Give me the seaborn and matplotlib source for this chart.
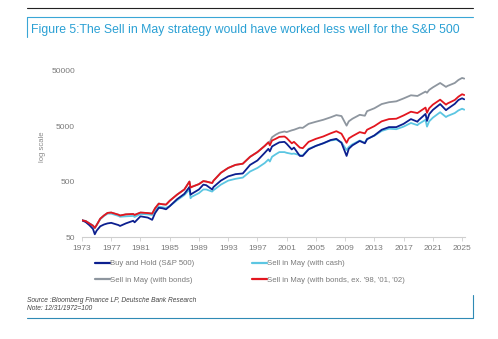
import matplotlib
matplotlib.use("Agg")
import matplotlib.pyplot as plt
from matplotlib.lines import Line2D
import numpy as np
import pandas as pd
import seaborn as sns

# ---- data ----
dates = [1973.0, 1973.5, 1974.0, 1974.5, 1974.75, 1975.0, 1975.5, 1976.0, 1976.5, 1977.0,
         1978.0, 1978.2, 1979.0, 1980.0, 1980.2, 1981.0, 1982.0, 1982.6, 1983.0, 1983.5,
         1984.0, 1984.5, 1985.0, 1986.0, 1987.0, 1987.7, 1987.85, 1988.0, 1989.0, 1989.6,
         1990.0, 1990.8, 1991.0, 1992.0, 1993.0, 1994.0, 1995.0, 1996.0, 1997.0, 1998.0,
         1998.5, 1998.7, 1999.0, 1999.5, 2000.0, 2000.7, 2001.0, 2001.7, 2002.0, 2002.8,
         2003.2, 2004.0, 2005.0, 2006.0, 2007.0, 2007.8, 2008.5, 2009.2, 2009.5, 2010.0,
         2011.0, 2011.7, 2012.0, 2013.0, 2014.0, 2015.0, 2016.0, 2017.0, 2018.0, 2018.9,
         2019.0, 2020.0, 2020.2, 2020.5, 2021.0, 2022.0, 2022.8, 2023.0, 2024.0, 2024.5,
         2025.0, 2025.3]

buy_hold = [100, 93, 82, 70, 56, 65, 78, 84, 88, 90,
            82, 79, 88, 98, 92, 118, 112, 102, 135, 168,
            165, 158, 180, 240, 300, 400, 290, 300, 360, 440,
            430, 360, 400, 520, 620, 680, 700, 1000, 1200, 1650,
            1950, 1750, 2150, 2350, 2550, 2600, 2400, 1900, 2050, 1450,
            1450, 1900, 2200, 2450, 2800, 2950, 2500, 1450, 1950, 2250,
            2700, 2450, 2900, 3400, 4300, 4800, 4800, 5500, 6700, 6000,
            6300, 8300, 6200, 8200, 9800, 12500, 9700, 10200, 12600, 14800,
            15900, 15200]

sim_cash = [100, 97, 88, 80, 72, 82, 105, 120, 132, 132,
            120, 116, 118, 120, 115, 130, 128, 125, 150, 178,
            172, 168, 180, 230, 285, 360, 250, 265, 310, 360,
            360, 330, 350, 440, 520, 560, 590, 760, 880, 1080,
            1250, 1150, 1400, 1550, 1700, 1700, 1650, 1580, 1600, 1500,
            1480, 1950, 2200, 2450, 2750, 2850, 2550, 1850, 2100, 2350,
            2750, 2500, 2950, 3350, 4100, 4500, 4400, 4900, 5700, 5200,
            5400, 6500, 4900, 6100, 7100, 8900, 7300, 7600, 8600, 9600,
            10300, 9900]

sim_bonds = [100, 97, 88, 80, 73, 82, 107, 122, 136, 138,
             126, 122, 128, 130, 125, 138, 135, 132, 165, 200,
             195, 192, 225, 290, 360, 500, 390, 400, 450, 510,
             500, 470, 520, 720, 880, 1000, 1050, 1400, 1700, 2200,
             2550, 2600, 3150, 3500, 3800, 4000, 3900, 4200, 4300, 4700,
             4650, 5500, 6000, 6500, 7200, 7900, 7600, 5100, 6100, 6800,
             8000, 7700, 9300, 10500, 12500, 13500, 14000, 15800, 18000, 17500,
             17800, 21000, 20000, 22500, 25000, 30000, 25500, 26500, 30000, 34000,
             37000, 36000]

sim_bonds_ex = [100, 97, 88, 80, 73, 82, 107, 122, 136, 138,
                126, 122, 128, 130, 125, 138, 135, 132, 165, 200,
                195, 192, 225, 290, 360, 500, 390, 400, 450, 510,
                500, 470, 520, 720, 880, 1000, 1050, 1400, 1700, 2200,
                2550, 2250, 2750, 2950, 3200, 3250, 3050, 2450, 2600, 2050,
                2000, 2600, 2950, 3250, 3700, 4050, 3650, 2500, 3000, 3300,
                3900, 3700, 4300, 5000, 6100, 6700, 6800, 7800, 9100, 8600,
                8800, 10800, 8700, 10500, 12200, 15000, 12200, 12800, 14800, 17000,
                18800, 18200]

labels = ["Buy and Hold (S&P 500)", "Sell in May (with cash)",
          "Sell in May (with bonds)", "Sell in May (with bonds, ex. '98, '01, '02)"]
colors = ["#0c1f8f", "#5cc6e2", "#8e969f", "#e3161f"]
xticks = list(range(1973, 2026, 4))
yticks = [50, 500, 5000, 50000]

title = "Figure 5:The Sell in May strategy would have worked less well for the S&P 500"
source = "Source :Bloomberg Finance LP, Deutsche Bank Research"
note = "Note: 12/31/1972=100"

# ---- frame ----
df = pd.concat([
    pd.DataFrame({"date": dates, "value": vals, "series": lab})
    for vals, lab in zip([buy_hold, sim_cash, sim_bonds, sim_bonds_ex], labels)
])

sns.set_style("white")
plt.rcParams["font.family"] = ["Liberation Sans", "DejaVu Sans"]

W, H = 498, 339
fig = plt.figure(figsize=(W / 100, H / 100), dpi=100)
ax = fig.add_axes([82 / W, 1 - 237 / H, (465 - 82) / W, (237 - 54) / H])

draw_order = [labels[2], labels[1], labels[0], labels[3]]
palette = dict(zip(labels, colors))
for lab in draw_order:
    sns.lineplot(data=df[df.series == lab], x="date", y="value", color=palette[lab],
                 lw=1.3, ax=ax, legend=False)

ax.set_yscale("log")
ax.set_ylim(50, 100000)
ax.set_xlim(1973, 2025.4)
ax.set_xticks(xticks)
ax.set_xticklabels([str(t) for t in xticks])
ax.set_yticks(yticks)
ax.set_yticklabels([str(t) for t in yticks])
ax.yaxis.set_minor_locator(matplotlib.ticker.NullLocator())
ax.set_xlabel("")
ax.set_ylabel("")
for s in ["top", "right", "left"]:
    ax.spines[s].set_visible(False)
ax.spines["bottom"].set_color("#cfcfcf")
ax.spines["bottom"].set_linewidth(0.8)
ax.tick_params(axis="x", length=3, width=0.6, color="#cfcfcf", labelsize=6,
               labelcolor="#7a7a7a", pad=3, direction="out", bottom=True)
ax.tick_params(axis="y", length=0, labelsize=6, labelcolor="#7a7a7a", pad=5)

fig.text(42 / W, 1 - 147 / H, "log scale", rotation=90, fontsize=5.5, color="#8a8a8a",
         ha="center", va="center")

# legend (column-wise order)
order = [0, 2, 1, 3]
handles = [Line2D([0], [0], color=colors[i], lw=1.6) for i in order]
fig.legend(handles, [labels[i] for i in order], ncol=2, frameon=False,
           loc="upper left", bbox_to_anchor=(95 / W, 1 - 260 / H),
           fontsize=5.6, labelcolor="#7a7a7a", handlelength=1.95, handletextpad=0.0,
           columnspacing=7.4, labelspacing=1.15, borderaxespad=0, borderpad=0)

# title and frame lines
fig.text(31 / W, 1 - 30 / H, title, fontsize=8.8, color="#2aa0d4", va="center", ha="left")
fig.add_artist(Line2D([27 / W, 473 / W], [1 - 8 / H, 1 - 8 / H], color="#222222", lw=0.8))
fig.add_artist(Line2D([27 / W, 473 / W], [1 - 17 / H, 1 - 17 / H], color="#3aa6d6", lw=0.8))
fig.add_artist(Line2D([27 / W, 27 / W], [1 - 17 / H, 1 - 37 / H], color="#3aa6d6", lw=0.8))
fig.add_artist(Line2D([27 / W, 473 / W], [1 - 318 / H, 1 - 318 / H], color="#2f8ab5", lw=0.8))
fig.add_artist(Line2D([473 / W, 473 / W], [1 - 295 / H, 1 - 318 / H], color="#2f8ab5", lw=0.8))

fig.text(27 / W, 1 - 300 / H, source, fontsize=4.8, style="italic", color="#444444",
         va="center", ha="left")
fig.text(27 / W, 1 - 308 / H, note, fontsize=4.8, style="italic", color="#444444",
         va="center", ha="left")

fig.savefig("out.png", dpi=100, facecolor="white")
